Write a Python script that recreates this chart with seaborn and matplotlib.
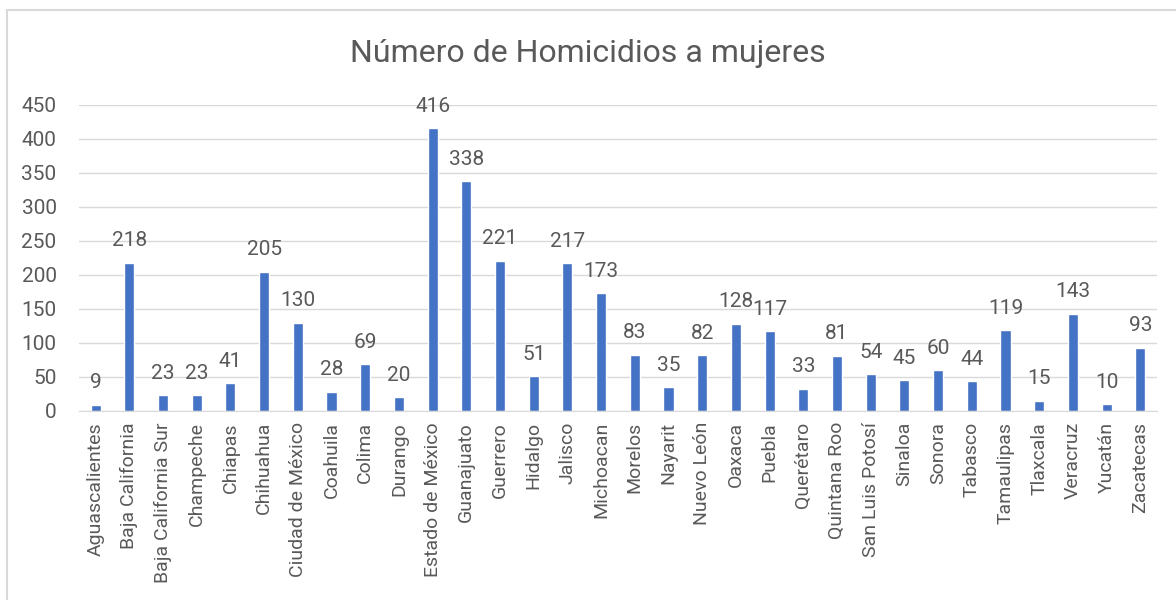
import pandas as pd
import matplotlib.pyplot as plt
import seaborn as sns
from matplotlib.lines import Line2D

estados = ['Aguascalientes', 'Baja California', 'Baja California Sur', 'Champeche',
           'Chiapas', 'Chihuahua', 'Ciudad de México', 'Coahuila', 'Colima', 'Durango',
           'Estado de México', 'Guanajuato', 'Guerrero', 'Hidalgo', 'Jalisco',
           'Michoacan', 'Morelos', 'Nayarit', 'Nuevo León', 'Oaxaca', 'Puebla',
           'Querétaro', 'Quintana Roo', 'San Luis Potosí', 'Sinaloa', 'Sonora',
           'Tabasco', 'Tamaulipas', 'Tlaxcala', 'Veracruz', 'Yucatán', 'Zacatecas']
homicidios = [9, 218, 23, 23, 41, 205, 130, 28, 69, 20, 416, 338, 221, 51, 217,
              173, 83, 35, 82, 128, 117, 33, 81, 54, 45, 60, 44, 119, 15, 143, 10, 93]
yticks = list(range(0, 451, 50))

data = pd.DataFrame({'estado': estados, 'homicidios': homicidios})

sns.set_style('white')
plt.rcParams['font.family'] = ['Roboto', 'Liberation Sans', 'DejaVu Sans']
gray = '#595959'

fig = plt.figure(figsize=(11.76, 6), dpi=100)
ax = fig.add_axes([0.067, 0.315, 0.917, 0.51])

sns.barplot(x='estado', y='homicidios', data=data, color='#4472C4',
            width=0.3, saturation=1, ax=ax)

for i, v in enumerate(homicidios):
    ax.annotate(str(v), (i, v), xytext=(0, 9), textcoords='offset points',
                ha='center', va='bottom', fontsize=15, color=gray)

ax.set_ylim(0, 450)
ax.set_xlim(-0.5, len(estados) - 0.5)
ax.set_yticks(yticks)
ax.yaxis.grid(True, color='#D9D9D9', linewidth=1)
ax.set_axisbelow(True)
ax.tick_params(axis='y', labelsize=15, colors=gray, length=0, pad=16)
ax.tick_params(axis='x', labelsize=14, colors=gray, length=0, rotation=90, pad=8)
ax.set_xlabel('')
ax.set_ylabel('')
for s in ['top', 'right', 'left']:
    ax.spines[s].set_visible(False)
ax.spines['bottom'].set_color('#D9D9D9')

fig.suptitle('Número de Homicidios a mujeres', fontsize=23, color=gray, y=0.935)

# chart border
fig.add_artist(Line2D([0.006, 1.0], [0.983, 0.983], color='#D9D9D9', lw=1.5))
fig.add_artist(Line2D([0.006, 0.006], [0.0, 0.983], color='#D9D9D9', lw=1.5))

fig.savefig('out.png', dpi=100)
